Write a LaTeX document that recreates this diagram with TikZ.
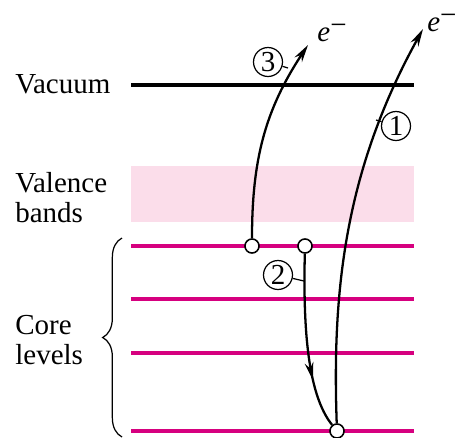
\documentclass[tikz,border=0pt]{standalone}
\usepackage{fontspec}
\setmainfont{Liberation Serif}
\usetikzlibrary{arrows.meta,decorations.pathreplacing,decorations.markings}
\definecolor{corepink}{HTML}{D6007F}
\definecolor{valencepink}{HTML}{FBDDEA}
\tikzset{
  level/.style={line width=1.8pt, corepink},
  hole/.style={circle, draw, fill=white, line width=0.9pt, inner sep=0pt, minimum size=8pt},
  tag/.style={circle, draw, line width=0.7pt, inner sep=0pt, minimum size=16.5pt},
  track/.style={line width=1.3pt},
  tip/.style={-{Stealth[length=10pt,width=5pt]}},
  lbl/.style={anchor=west, inner sep=0pt},
}
\begin{document}
\begin{tikzpicture}[x=0.02cm, y=-0.02cm, font=\rmfamily\fontsize{16.5pt}{20pt}\selectfont]
    \useasboundingbox (0,0) rectangle (457,437);
    % bands
    \fill[valencepink] (131,166) rectangle (414,222);
    \draw[line width=2pt] (131,85) -- (414,85);
    \foreach \y in {246,299,353,431}
        \draw[level] (131,\y) -- (414,\y);
    % labels
    \node[lbl] (vac) at (15,84) {Vacuum};
    \node[lbl] (val) at (15,183) {Valence};
    \node[lbl] (bnd) at (15,213) {bands};
    \node[lbl] (cor) at (15,325) {Core};
    \node[lbl] (lev) at (15,355) {levels};
    \draw[decorate, decoration={brace, amplitude=11pt}, line width=0.7pt] (122,437) -- (122,238);
    % holes
    \node[hole] (h3) at (252,246) {};
    \node[hole] (h2) at (305,246) {};
    \node[hole] (h1) at (337,431) {};
    \coordinate (t3) at (308,45);
    \coordinate (t1) at (423,29);
    % transitions
    \draw[track, tip] (h1) .. controls (332,290) and (345,170) .. (t1);
    \draw[track, tip] (h3) .. controls (252,160) and (265,110) .. (t3);
    \draw[track, decoration={markings, mark=at position 0.72 with {\arrow{Stealth[length=10pt,width=5pt]}}}, postaction=decorate]
        (h2) .. controls (303,330) and (308,395) .. (h1);
    \node (e3) at (332,33) {\textit{e}\raisebox{0.55ex}{−}};
    \node[lbl] (e1) at (427,23) {\textit{e}\raisebox{0.55ex}{−}};
    % numbers
    \node[tag] (n1) at (396,126) {1};
    \node[tag] (n2) at (278,275) {2};
    \node[tag] (n3) at (268,62) {3};
    \coordinate (c1) at (376,120);
    \coordinate (c2) at (304,281);
    \coordinate (c3) at (288,68);
    \draw[line width=0.7pt] (n1) -- (c1);
    \draw[line width=0.7pt] (n2) -- (c2);
    \draw[line width=0.7pt] (n3) -- (c3);
\end{tikzpicture}
\end{document}
